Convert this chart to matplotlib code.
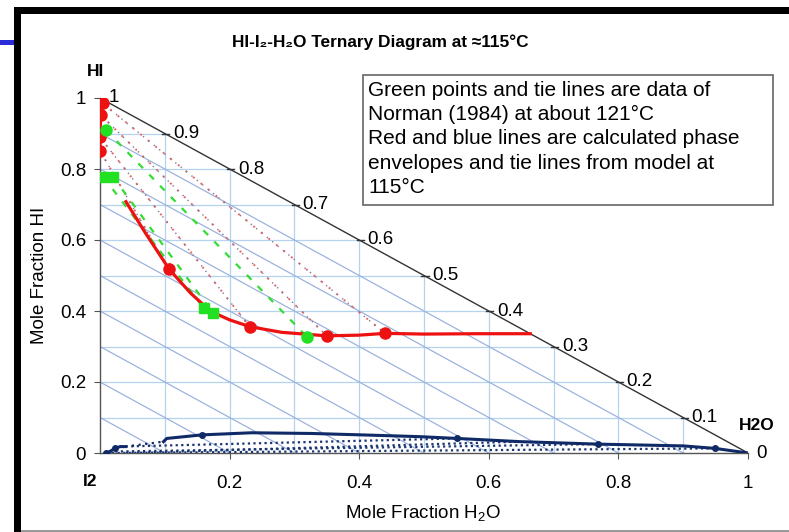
import matplotlib
matplotlib.use('Agg')
import matplotlib.pyplot as plt
from matplotlib.patches import Rectangle

plt.rcParams['font.family'] = ['Liberation Sans', 'DejaVu Sans']
plt.rcParams['mathtext.fontset'] = 'custom'
plt.rcParams['mathtext.rm'] = 'Liberation Sans'
plt.rcParams['mathtext.it'] = 'Liberation Sans'

# red phase envelope (model, HI-rich side)
red_curve_x = [0.040, 0.070, 0.107, 0.140, 0.170, 0.200, 0.231, 0.280, 0.350, 0.400, 0.440, 0.500, 0.580, 0.664]
red_curve_y = [0.708, 0.620, 0.517, 0.450, 0.400, 0.375, 0.356, 0.340, 0.330, 0.332, 0.337, 0.335, 0.336, 0.336]
red_left_x = [0.004, 0.001, 0.000, 0.000]
red_left_y = [0.985, 0.952, 0.889, 0.851]
red_dot_x = [0.107, 0.231, 0.350, 0.440]
red_dot_y = [0.517, 0.356, 0.330, 0.337]
red_ties = [((0.004, 0.985), (0.440, 0.337)),
            ((0.001, 0.952), (0.350, 0.330)),
            ((0.000, 0.889), (0.231, 0.356)),
            ((0.000, 0.851), (0.107, 0.517))]

# green data of Norman (1984)
green_dot_x = [0.009, 0.319]
green_dot_y = [0.910, 0.328]
green_sq_x = [0.005, 0.020, 0.160, 0.174]
green_sq_y = [0.778, 0.778, 0.408, 0.395]
green_ties = [((0.009, 0.910), (0.319, 0.328)),
              ((0.005, 0.778), (0.160, 0.408)),
              ((0.020, 0.778), (0.174, 0.395))]

# blue phase envelope (model, I2-rich side)
blue_a_x = [0.010, 0.015, 0.023, 0.031, 0.039]
blue_a_y = [0.000, 0.004, 0.013, 0.018, 0.018]
blue_gap_x = [0.039, 0.098]
blue_gap_y = [0.018, 0.032]
blue_b_x = [0.098, 0.103, 0.157, 0.234, 0.327, 0.404, 0.494, 0.551, 0.648, 0.769, 0.900, 0.949, 1.000]
blue_b_y = [0.032, 0.041, 0.051, 0.057, 0.055, 0.051, 0.046, 0.041, 0.032, 0.025, 0.020, 0.013, 0.000]
blue_dot_x = [0.010, 0.023, 0.157, 0.551, 0.769, 0.949]
blue_dot_y = [0.000, 0.013, 0.051, 0.041, 0.025, 0.013]
blue_ties = [((0.031, 0.018), (0.551, 0.041)),
             ((0.015, 0.004), (0.769, 0.025)),
             ((0.010, 0.000), (0.949, 0.013)),
             ((0.040, 0.000), (0.648, 0.032))]

grid_vals = [0.1, 0.2, 0.3, 0.4, 0.5, 0.6, 0.7, 0.8, 0.9]
tick_vals = [0.2, 0.4, 0.6, 0.8, 1.0]
hyp_labels = ['1', '0.9', '0.8', '0.7', '0.6', '0.5', '0.4', '0.3', '0.2', '0.1', '0']

W, H = 789, 532
fig = plt.figure(figsize=(W / 100, H / 100), dpi=100)
ax = fig.add_axes([100 / W, 1 - 453 / H, 648 / W, 355 / H])
ax.set_xlim(0, 1)
ax.set_ylim(0, 1)
ax.patch.set_alpha(0)
for s in ['top', 'right']:
    ax.spines[s].set_visible(False)
for s in ['left', 'bottom']:
    ax.spines[s].set_color('#555555')
    ax.spines[s].set_linewidth(1.0)

# triangular grid
for v in grid_vals:
    ax.plot([0, 1 - v], [v, v], color='#b4d3ef', lw=0.9, zorder=1)
    ax.plot([v, v], [0, 1 - v], color='#b4d3ef', lw=0.9, zorder=1)
    ax.plot([0, v], [v, 0], color='#9cb3de', lw=0.9, zorder=1)
ax.plot([0, 1], [1, 0], color='#333333', lw=1.0, zorder=2)

# hypotenuse ticks and labels
for i, lab in enumerate(hyp_labels):
    yv = 1 - i / 10
    xv = 1 - yv
    ax.plot([xv - 0.004, xv + 0.007], [yv, yv], color='#333333', lw=1.0, zorder=2)
    ax.annotate(lab, (xv, yv), xytext=(6, 0), textcoords='offset points',
                fontsize=13.5, va='center', ha='left')

# tie lines
for p, q in red_ties:
    ax.plot([p[0], q[0]], [p[1], q[1]], color='#e46a6a', lw=1.4, ls=(0, (1, 4)), zorder=3)
    ax.plot([p[0], q[0]], [p[1], q[1]], color='#937090', lw=1.0, ls=(2.5, (1, 4)), zorder=3)
for p, q in green_ties:
    ax.plot([p[0], q[0]], [p[1], q[1]], color='#33dd33', lw=1.6, ls=(0, (3, 4)), zorder=3)
for p, q in blue_ties:
    ax.plot([p[0], q[0]], [p[1], q[1]], color='#1a3570', lw=1.6, ls=(0, (1, 1.5)), zorder=3)

# envelopes
ax.plot(red_curve_x, red_curve_y, color='#ee1111', lw=2.3, zorder=4)
ax.plot(red_left_x, red_left_y, color='#ee1111', lw=2.3, zorder=4)
ax.plot(red_left_x + red_dot_x, red_left_y + red_dot_y, 'o', color='#ee1111', ms=8, zorder=5)
ax.plot(green_dot_x, green_dot_y, 'o', color='#22e022', ms=8, zorder=6)
ax.plot(green_sq_x, green_sq_y, 's', color='#22e022', ms=7.5, zorder=6)

ax.plot(blue_a_x, blue_a_y, color='#0f2a66', lw=2.2, zorder=4)
ax.plot(blue_gap_x, blue_gap_y, color='#0f2a66', lw=1.6, ls=(0, (1, 2)), zorder=4)
ax.plot(blue_b_x, blue_b_y, color='#0f2a66', lw=2.2, zorder=4)
ax.plot(blue_dot_x, blue_dot_y, 'o', color='#0f2a66', ms=4, zorder=5)

ax.set_xticks(tick_vals)
ax.set_xticklabels(['0.2', '0.4', '0.6', '0.8', '1'])
ax.set_yticks([0, 0.2, 0.4, 0.6, 0.8, 1.0])
ax.set_yticklabels(['0', '0.2', '0.4', '0.6', '0.8', '1'])
ax.tick_params(axis='both', direction='out', length=4, color='#555555', labelsize=13.5)
ax.tick_params(axis='x', pad=12)
ax.tick_params(axis='y', pad=6)


def px(x, y):
    return x / W, 1 - y / H


# axis titles, corner labels and title
fig.text(*px(423, 513), 'Mole Fraction H$_2$O', fontsize=13.5, ha='center', va='center')
fig.text(*px(40, 275), 'Mole Fraction HI', fontsize=13.5, ha='center', va='center', rotation=90)
fig.text(*px(96, 72), 'HI', fontsize=12.5, fontweight='bold', ha='center', va='center')
fig.text(*px(90, 482), 'I2', fontsize=12.5, fontweight='bold', ha='center', va='center')
fig.text(*px(757, 425), 'H2O', fontsize=12.5, fontweight='bold', ha='center', va='center')
fig.text(*px(380, 42), 'HI-I\u2082-H\u2082O Ternary Diagram at \u2248115°C', fontsize=12.4,
         fontweight='bold', ha='center', va='center')

# note box
fig.patches.append(Rectangle(px(363, 205), 410 / W, 130 / H, transform=fig.transFigure,
                             facecolor='white', edgecolor='#666666', lw=1.2))
note = ['Green points and tie lines are data of',
        'Norman (1984) at about 121°C',
        'Red and blue lines are calculated phase',
        'envelopes and tie lines from model at',
        '115°C']
for i, line in enumerate(note):
    fig.text(*px(368, 90 + 24.5 * i), line, fontsize=15, ha='left', va='center')

# slide frame
fig.patches.append(Rectangle(px(14, 14), (W - 14) / W, 7 / H, transform=fig.transFigure,
                             facecolor='black', edgecolor='none'))
fig.patches.append(Rectangle(px(14, H), 7 / W, (H - 7) / H, transform=fig.transFigure,
                             facecolor='black', edgecolor='none'))
fig.patches.append(Rectangle(px(0, 45), 14 / W, 5 / H, transform=fig.transFigure,
                             facecolor='#2b2bd8', edgecolor='none'))
fig.patches.append(Rectangle(px(21, H), (W - 21) / W, 2 / H, transform=fig.transFigure,
                             facecolor='#999999', edgecolor='none'))

fig.savefig('out.png', dpi=100)
